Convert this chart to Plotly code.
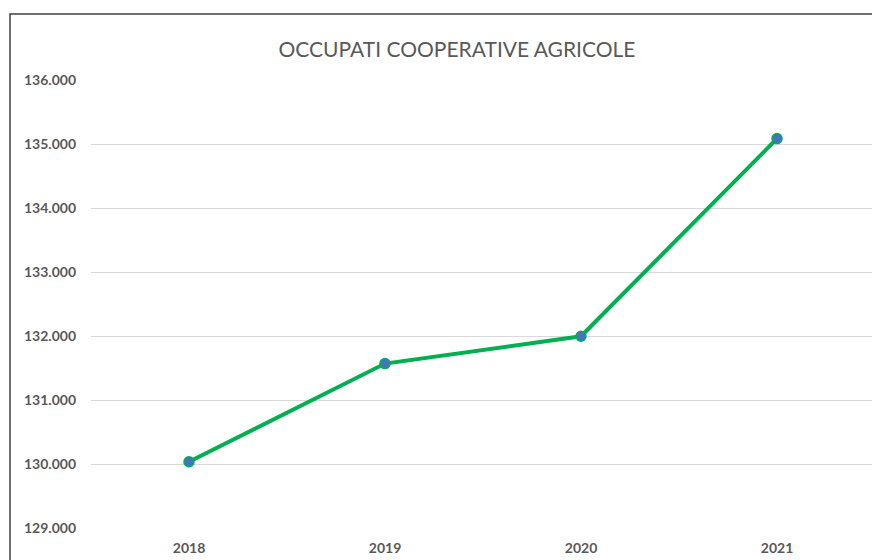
import plotly.graph_objects as go

# Data
anni = ["2018", "2019", "2020", "2021"]
occupati = [130036, 131569, 131996, 135084]
y_ticks = [129000, 130000, 131000, 132000, 133000, 134000, 135000, 136000]

GRIGIO = "#595959"

# the page adds an 8px body margin, so the figure is drawn 8px smaller
W, H = 872, 552

fig = go.Figure()
fig.add_trace(go.Scatter(
    x=anni, y=occupati, mode="lines+markers",
    line=dict(color="#00B050", width=4),
    marker=dict(size=10, color="#4472C4", line=dict(color="#00B050", width=1.5)),
    showlegend=False, hoverinfo="x+y",
))

fig.update_layout(
    width=W, height=H,
    margin=dict(l=83, r=5, t=72, b=32),
    paper_bgcolor="white", plot_bgcolor="white",
    separators=",.",
    font=dict(family="Lato, Open Sans, sans-serif", color=GRIGIO),
    title=dict(text="OCCUPATI COOPERATIVE AGRICOLE", x=(449 - 83) / 784, xref="paper",
               xanchor="center", y=1 - 42 / H, yanchor="middle",
               font=dict(size=21, color=GRIGIO)),
    xaxis=dict(type="category", range=[-0.5, 3.5], showgrid=False, showline=False,
               zeroline=False, ticks="",
               tickfont=dict(size=14, color=GRIGIO, weight="bold"),
               ticklabelstandoff=10),
    yaxis=dict(range=[129000, 136000], tickvals=y_ticks, tickformat=",.0f",
               showgrid=True, gridcolor="#D9D9D9", gridwidth=1,
               zeroline=False, showline=False, ticks="",
               tickfont=dict(size=14, color=GRIGIO, weight="bold"),
               ticklabelstandoff=14),
    shapes=[dict(type="rect", xref="paper", yref="paper",
                 x0=-81 / 784, x1=1.2, y0=-0.3, y1=1 + 66 / 447.7,
                 line=dict(color="#404040", width=1.5), layer="below")],
)

fig.write_html("out.html")
